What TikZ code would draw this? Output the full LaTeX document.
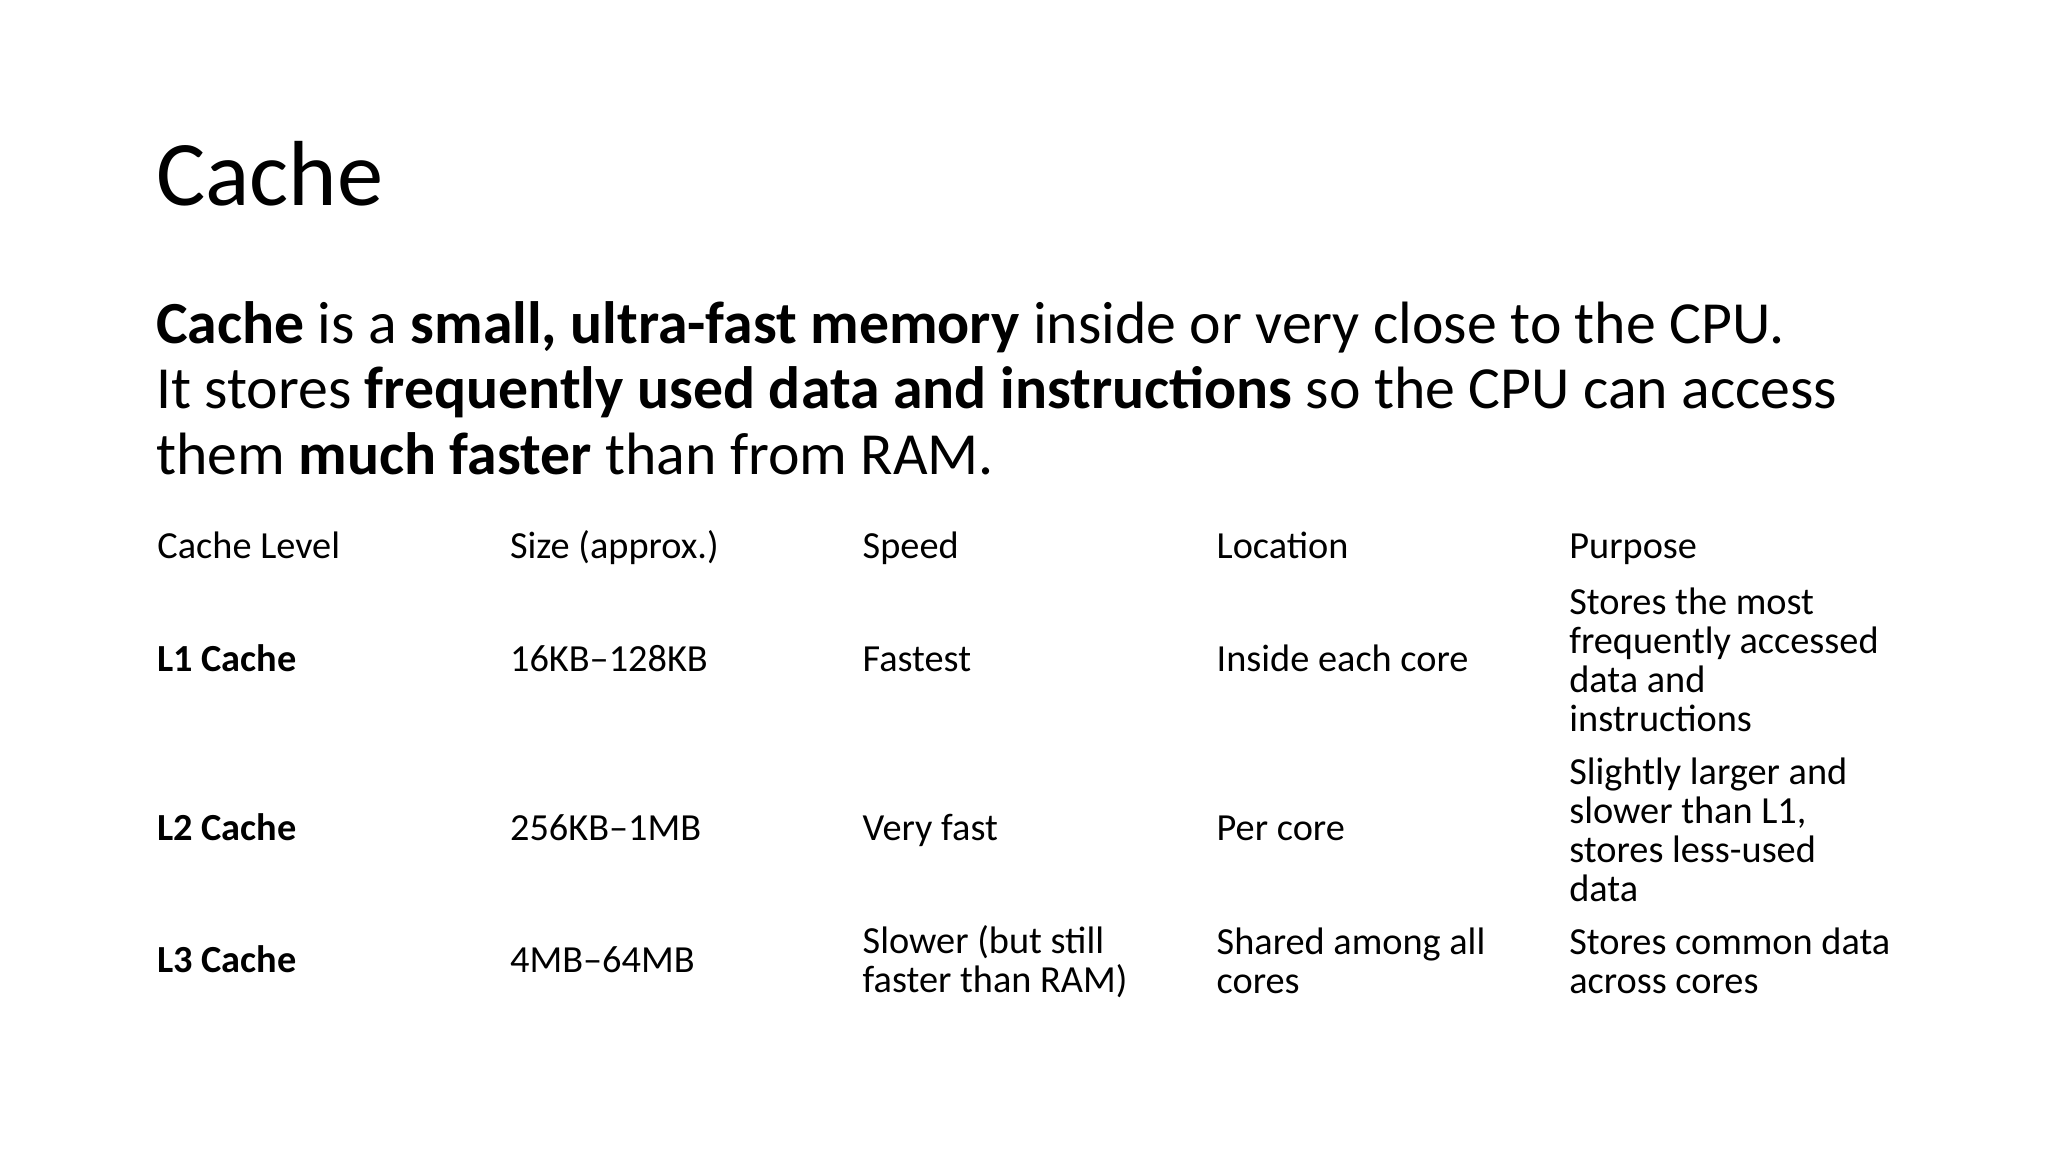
\documentclass[tikz,border=0pt]{standalone}
\usepackage{fontspec}
\setmainfont{Carlito}
\begin{document}
\begin{tikzpicture}[x=0.013061cm,y=-0.013061cm,
  mcell/.style={anchor=west,inner sep=0pt,align=left,font=\fontsize{10.9pt}{11.1pt}\selectfont},
  cell/.style={mcell,text height=0.72em,text depth=0.22em,yshift=-0.04cm},
  bcell/.style={cell,font=\fontsize{10.9pt}{11.1pt}\selectfont\bfseries}]
\useasboundingbox[fill=white] (0,0) rectangle (1568,882);
\node[anchor=west,inner sep=0pt,font=\fontsize{26.3pt}{26.3pt}\selectfont] (title) at (119,133) {Cache};
\node[anchor=west,inner sep=0pt,align=left,font=\fontsize{17pt}{18.6pt}\selectfont] (body) at (119,297)
 {\textbf{Cache} is a \textbf{small, ultra-fast memory} inside or very close to the CPU.\\
  It stores \textbf{frequently used data and instructions} so the CPU can access\\
  them \textbf{much faster} than from RAM.};
% header
\node[cell] (h1) at (120,418) {Cache Level};
\node[cell] (h2) at (390,418) {Size (approx.)};
\node[cell] (h3) at (660,418) {Speed};
\node[cell] (h4) at (931,418) {Location};
\node[cell] (h5) at (1201,418) {Purpose};
% L1
\node[bcell] (a1) at (120,504) {L1 Cache};
\node[cell] (a2) at (390,504) {16KB–128KB};
\node[cell] (a3) at (660,504) {Fastest};
\node[cell] (a4) at (931,504) {Inside each core};
\node[mcell] (a5) at (1201,505) {Stores the most\\frequently accessed\\data and\\instructions};
% L2
\node[bcell] (b1) at (120,634) {L2 Cache};
\node[cell] (b2) at (390,634) {256KB–1MB};
\node[cell] (b3) at (660,634) {Very fast};
\node[cell] (b4) at (931,634) {Per core};
\node[mcell] (b5) at (1201,635) {Slightly larger and\\slower than L1,\\stores less-used\\data};
% L3
\node[bcell] (c1) at (120,735) {L3 Cache};
\node[cell] (c2) at (390,735) {4MB–64MB};
\node[mcell] (c3) at (660,736) {Slower (but still\\faster than RAM)};
\node[mcell] (c4) at (931,736) {Shared among all\\cores};
\node[mcell] (c5) at (1201,736) {Stores common data\\across cores};
\end{tikzpicture}
\end{document}
